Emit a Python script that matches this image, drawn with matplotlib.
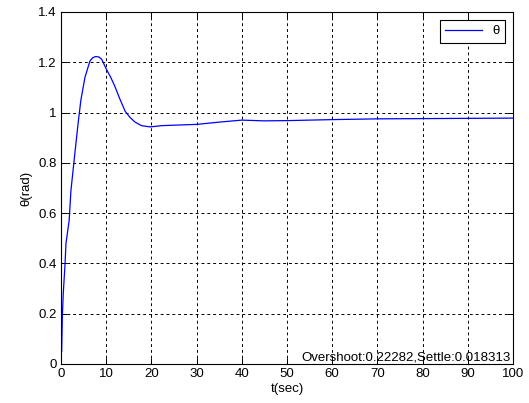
import numpy as np
import matplotlib.pyplot as plt

plt.rcParams['font.family'] = ['Liberation Sans', 'DejaVu Sans']

# response
t = [0.15, 0.3, 0.5, 0.9, 1.1, 1.8, 2.2, 2.9, 3.8, 4.4, 5.3, 6.4, 7.0, 7.7,
     8.4, 9.0, 10.1, 11.0, 11.9, 13.0, 14.2, 15.3, 16.4, 17.8, 19.7, 22.3,
     25.2, 30, 35, 40, 45, 50, 60, 70, 80, 90, 100]
theta = [0.05, 0.19, 0.28, 0.40, 0.48, 0.57, 0.69, 0.81, 0.96, 1.05, 1.14,
         1.205, 1.218, 1.223, 1.221, 1.212, 1.17, 1.14, 1.105, 1.055, 1.005,
         0.98, 0.962, 0.948, 0.943, 0.948, 0.950, 0.953, 0.962, 0.970, 0.967,
         0.968, 0.972, 0.975, 0.976, 0.977, 0.978]
note = 'Overshoot:0.22282,Settle:0.018313'

fig = plt.figure(figsize=(5.29, 4.03), dpi=100)
ax = fig.add_axes([61/529, 1 - 364/403, 452/529, 352/403])

ax.plot(t, theta, color='#0000ff', linewidth=0.9, label='θ')
ax.set_xlim(0, 100)
ax.set_ylim(0, 1.4)
ax.set_xticks(np.arange(0, 101, 10))
ax.set_yticks([0, 0.2, 0.4, 0.6, 0.8, 1, 1.2, 1.4])
ax.set_yticklabels(['0', '0.2', '0.4', '0.6', '0.8', '1', '1.2', '1.4'])
ax.grid(True, color='black', linestyle=(0, (3, 3)), linewidth=0.7)
ax.tick_params(direction='in', top=True, right=True, labelsize=9.5, length=4,
               width=0.7, pad=3)
for s in ax.spines.values():
    s.set_linewidth(0.8)
ax.set_xlabel('t(sec)', fontsize=9.5, labelpad=2)
ax.set_ylabel('θ(rad)', fontsize=9.5, labelpad=4)
ax.text(99.5, 0.003, note, ha='right', va='bottom', fontsize=9.5)

leg = ax.legend(loc='upper right', fontsize=9.5, fancybox=False, framealpha=1,
                edgecolor='black', handlelength=2.8, borderaxespad=0.6)
leg.get_frame().set_linewidth(0.8)

fig.savefig('out.png', dpi=100)
